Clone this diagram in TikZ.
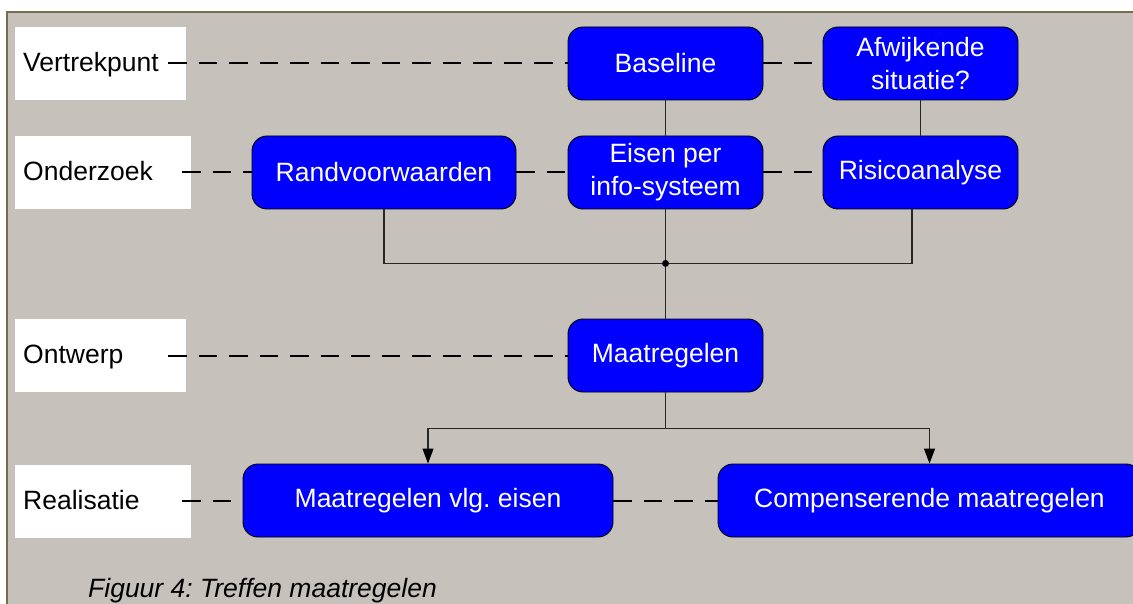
\documentclass[tikz,border=0pt]{standalone}
\usepackage{fontspec}
\setmainfont{Liberation Sans}
\usetikzlibrary{arrows.meta}
\definecolor{panel}{RGB}{199,193,187}
\definecolor{frame}{RGB}{120,108,80}
\definecolor{boxblue}{RGB}{0,0,255}
\newcommand\boxfont{\fontsize{26.5}{33}\selectfont}
\frenchspacing
\begin{document}
\begin{tikzpicture}[x=1pt,y=-1pt,
  stagebox/.style={fill=white,draw=none,minimum height=73pt,inner sep=0pt},
  stagetext/.style={anchor=base west,font=\boxfont,inner sep=0pt},
  blok/.style={rounded corners=15pt,fill=boxblue,draw=black,line width=0.9pt,
    text=white,font=\boxfont,align=center,minimum height=73pt,inner sep=0pt},
  stip/.style={line width=2pt,dash pattern=on 18.5pt off 12pt},
  link/.style={line width=1.1pt,draw=black!85},
  pijl/.style={link,-{Triangle[length=15pt,width=11pt,color=black]}}]
\useasboundingbox (0,0) rectangle (1133,604);
% page and grey panel with its frame
\fill[white] (0,0) rectangle (1133,604);
\fill[panel] (7,12) rectangle (1145,615);
\draw[frame,line width=1.2pt] (7,615) -- (7,12) -- (1145,12);

% stage labels on the left
\node[stagebox,minimum width=171pt] (w1) at (100.5,63.5) {};
\node[stagebox,minimum width=176pt] (w2) at (103,172.5) {};
\node[stagebox,minimum width=171pt] (w3) at (100.5,355.5) {};
\node[stagebox,minimum width=176pt] (w4) at (103,501) {};
\node[stagetext] (t1) at (23,72) {Vertrekpunt};
\node[stagetext] (t2) at (23,180.5) {Onderzoek};
\node[stagetext] (t3) at (23,363.5) {Ontwerp};
\node[stagetext] (t4) at (23,509) {Realisatie};
\coordinate (s1) at (168,63.5);
\coordinate (s2) at (182,172.5);
\coordinate (s3) at (168,355.5);
\coordinate (s4) at (182,500.5);

% process boxes
\node[blok,minimum width=195pt] (base) at (665.5,63.5) {Baseline};
\node[blok,minimum width=195pt] (afw) at (920.5,63.5) {Afwijkende\\situatie?};
\node[blok,minimum width=264pt] (rand) at (384,172.5) {Randvoorwaarden};
\node[blok,minimum width=195pt] (eisen) at (665.5,172.5) {Eisen per\\info-systeem};
\node[blok,minimum width=195pt] (risico) at (920.5,172.5) {Risicoanalyse};
\node[blok,minimum width=195pt] (maat) at (665.5,355.5) {Maatregelen};
\node[blok,minimum width=370pt] (mvlg) at (428,500.5) {Maatregelen vlg. eisen};
\node[blok,minimum width=423pt] (comp) at (929.5,500.5) {Compenserende maatregelen};

% dashed stage lines
\draw[stip] (s1) -- (base.west);
\draw[stip] (base.east) -- (afw.west);
\draw[stip] (s2) -- (rand.west);
\draw[stip] (rand.east) -- (eisen.west);
\draw[stip] (eisen.east) -- (risico.west);
\draw[stip] (s3) -- (maat.west);
\draw[stip] (s4) -- (mvlg.west);
\draw[stip] (mvlg.east) -- (comp.west);

% solid flow lines
\draw[link] (base.south) -- (eisen.north);
\draw[link] (afw.south) -- (risico.north);
\path (eisen.south) ++(0,54) coordinate (j);
\draw[link] (rand.south) |- (j);
\draw[link] ([xshift=-8.5pt]risico.south) |- (j);
\draw[link] (eisen.south) -- (j) -- (maat.north);
\fill (j) circle (3.5pt);
\path (maat.south) ++(0,36) coordinate (k);
\draw[link] (maat.south) -- (k);
\draw[pijl] (k) -| (mvlg.north);
\draw[pijl] (k) -| (comp.north);

% caption
\node[anchor=base west,font=\boxfont\itshape,inner sep=0pt] (cap) at (88,597) {Figuur 4: Treffen maatregelen};
\end{tikzpicture}
\end{document}
